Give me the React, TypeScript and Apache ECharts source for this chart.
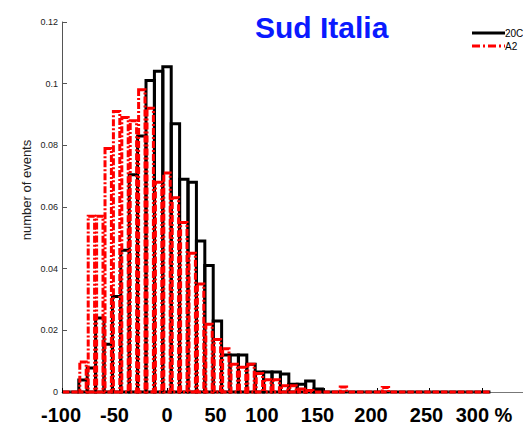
import React, { useEffect, useRef } from "react";
import * as echarts from "echarts";

const titleText = "Sud Italia";
const yAxisTitle = "number of events";
const seriesNames = ["20C", "A2"];
const binWidth = 8;
const binCenters = [
  -96, -88, -80, -72, -64, -56, -48, -40, -32, -24, -16, -8, 0, 8, 16, 24, 32, 40, 48, 56,
  64, 72, 80, 88, 96, 104, 112, 120, 128, 136, 144, 152, 160, 168, 176, 184, 192, 200, 208,
  216, 224, 232, 240, 248, 256, 264, 272, 280, 288, 296, 304,
];
const values20C = [
  0, 0, 0.0039, 0.0078, 0.024, 0.0155, 0.031, 0.046, 0.0705, 0.083, 0.101, 0.104, 0.1055,
  0.087, 0.069, 0.068, 0.049, 0.041, 0.023, 0.012, 0.012, 0.012, 0.009, 0.0065, 0.0065,
  0.0065, 0.0058, 0.0025, 0.0025, 0.0036, 0.001, 0, 0, 0, 0, 0, 0, 0, 0, 0, 0, 0, 0, 0, 0,
  0, 0, 0, 0, 0, 0,
];
const valuesA2 = [
  0, 0, 0.0097, 0.057, 0.057, 0.079, 0.091, 0.089, 0.088, 0.098, 0.092, 0.068, 0.071, 0.063,
  0.055, 0.045, 0.035, 0.022, 0.017, 0.014, 0.009, 0.008, 0.009, 0.006, 0.004, 0.004, 0.002,
  0.002, 0.001, 0.0005, 0, 0, 0, 0.0016, 0, 0, 0, 0, 0.0015, 0, 0, 0, 0, 0, 0, 0, 0, 0, 0,
  0, 0,
];
const xTicks = [-100, -50, 0, 50, 100, 150, 200, 250, 300];
const xTickLabels = ["-100", "-50", "0", "50", "100", "150", "200", "250", "300 %"];
// horizontal nudges of the hand-placed labels (px, negative = left)
const xLabelNudge = [-1, 0, 0, -4, -10, -7, -6, -3, 2];
const yTicks = [0, 0.02, 0.04, 0.06, 0.08, 0.1, 0.12];
const yTickLabels = ["0", "0.02", "0.04", "0.06", "0.08", "0.1", "0.12"];

const FONT = "Liberation Sans, Arial, Helvetica, sans-serif";

function makeRender(stroke: string, dash: number[] | null, widthFrac: number) {
  return (params: any, api: any) => {
    const c = api.value(0);
    const v = api.value(1);
    const half = (binWidth * widthFrac) / 2;
    const p0 = api.coord([c - half, v]);
    const p1 = api.coord([c + half, 0]);
    return {
      type: "rect",
      shape: { x: p0[0], y: p0[1], width: p1[0] - p0[0], height: p1[1] - p0[1] },
      style: {
        fill: "none",
        stroke,
        lineWidth: 3,
        lineDash: dash || undefined,
      },
    };
  };
}

export default function App() {
  const ref = useRef<HTMLDivElement>(null);
  useEffect(() => {
    if (!ref.current) return;
    const chart = echarts.init(ref.current, null, { renderer: "svg" });
    const d1 = binCenters.map((c, i) => [c, values20C[i]]);
    const d2 = binCenters.map((c, i) => [c, valuesA2[i]]);
    const rich: any = {};
    xTicks.forEach((t, i) => {
      const n = xLabelNudge[i];
      rich["l" + i] = {
        fontFamily: FONT,
        fontWeight: "bold",
        fontSize: 20,
        lineHeight: 20,
        color: "#000",
        padding: n < 0 ? [0, -2 * n, 0, 0] : [0, 0, 0, 2 * n],
      };
    });
    chart.setOption({
      animation: false,
      backgroundColor: "#ffffff",
      grid: { left: 62, right: 0, top: 22, bottom: 34, outerBoundsMode: "none", containLabel: false },
      title: {
        text: titleText,
        left: 250,
        top: 7,
        textStyle: { fontFamily: FONT, fontWeight: "bold", fontSize: 30, color: "#0a1aff" },
      },
      xAxis: {
        type: "value",
        min: -100,
        max: 339,
        interval: 50,
        axisLine: { lineStyle: { color: "#777", width: 1 } },
        axisTick: { inside: true, length: 4, lineStyle: { color: "#000" } },
        splitLine: { show: false },
        axisLabel: {
          margin: 13,
          fontFamily: FONT,
          fontWeight: "bold",
          fontSize: 20,
          lineHeight: 20,
          color: "#000",
          rich,
          formatter: (v: number) => {
            const i = xTicks.indexOf(v);
            return i < 0 ? "" : "{l" + i + "|" + xTickLabels[i] + "}";
          },
        },
      },
      yAxis: {
        type: "value",
        min: 0,
        max: 0.12,
        interval: 0.02,
        axisLine: { show: true, onZero: false, lineStyle: { color: "#555", width: 1 } },
        axisTick: { show: true, inside: true, length: 5, lineStyle: { color: "#555" } },
        splitLine: { show: false },
        axisLabel: {
          margin: 4,
          fontFamily: FONT,
          fontSize: 9,
          color: "#222",
          formatter: (v: number) => {
            const i = yTicks.findIndex((y) => Math.abs(y - v) < 1e-9);
            return i < 0 ? "" : yTickLabels[i];
          },
        },
      },
      graphic: [
        {
          type: "text",
          x: 26,
          y: 190,
          rotation: Math.PI / 2,
          style: {
            text: yAxisTitle,
            font: "13px " + FONT,
            fill: "#222",
            align: "center",
            verticalAlign: "middle",
          },
        },
        {
          type: "line",
          shape: { x1: 472, y1: 33, x2: 505, y2: 33 },
          style: { stroke: "#000", lineWidth: 3 },
        },
        {
          type: "text",
          x: 505,
          y: 33,
          style: { text: seriesNames[0], font: "10px " + FONT, fill: "#000", verticalAlign: "middle" },
        },
        {
          type: "line",
          shape: { x1: 472, y1: 46, x2: 505, y2: 46 },
          style: { stroke: "#ff0000", lineWidth: 3, lineDash: [8, 3, 2, 3] },
        },
        {
          type: "text",
          x: 505,
          y: 46,
          style: { text: seriesNames[1], font: "10px " + FONT, fill: "#000", verticalAlign: "middle" },
        },
      ],
      series: [
        {
          type: "custom",
          name: seriesNames[0],
          data: d1,
          clip: false,
          renderItem: makeRender("#000000", null, 1),
        },
        {
          type: "custom",
          name: seriesNames[1],
          data: d2,
          clip: false,
          renderItem: makeRender("#ff0000", [7, 2, 2, 2], 0.76),
        },
      ],
    });
    return () => chart.dispose();
  }, []);
  return (
    <div
      ref={ref}
      style={{ position: "absolute", left: 0, top: 0, width: 523, height: 426, overflow: "hidden" }}
    />
  );
}
